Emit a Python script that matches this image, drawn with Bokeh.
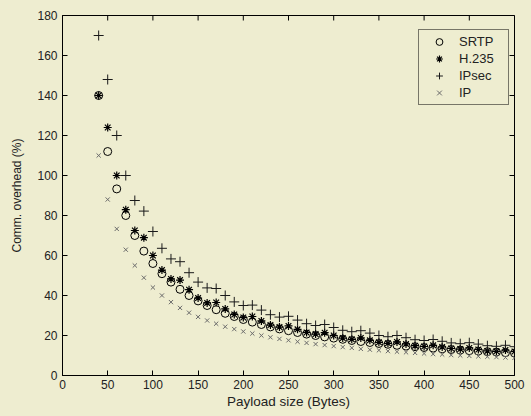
from bokeh.plotting import figure
from bokeh.models import Range1d, SingleIntervalTicker, Legend
from bokeh.embed import file_html
from bokeh.resources import INLINE
import math

payload = [40, 50, 60, 70, 80, 90, 100, 110, 120, 130, 140, 150, 160, 170, 180, 190,
           200, 210, 220, 230, 240, 250, 260, 270, 280, 290, 300, 310, 320, 330, 340,
           350, 360, 370, 380, 390, 400, 410, 420, 430, 440, 450, 460, 470, 480, 490, 500]

srtp = [140.0, 112.0, 93.3, 80.0, 70.0, 62.2, 56.0, 50.9, 46.7, 43.1, 40.0, 37.3, 35.0,
        32.9, 31.1, 29.5, 28.0, 26.7, 25.5, 24.3, 23.3, 22.4, 21.5, 20.7, 20.0, 19.3,
        18.7, 18.1, 17.5, 17.0, 16.5, 16.0, 15.6, 15.1, 14.7, 14.4, 14.0, 13.7, 13.3,
        13.0, 12.7, 12.4, 12.2, 11.9, 11.7, 11.4, 11.2]

h235 = [140.0, 124.0, 100.0, 82.9, 72.5, 68.9, 60.0, 52.7, 48.3, 47.7, 42.9, 38.7, 36.3,
        36.5, 33.3, 30.5, 29.0, 29.5, 27.3, 25.2, 24.2, 24.8, 23.1, 21.5, 20.7, 21.4,
        20.0, 18.7, 18.1, 18.8, 17.6, 16.6, 16.1, 16.8, 15.8, 14.9, 14.5, 15.1, 14.3,
        13.5, 13.2, 13.8, 13.0, 12.3, 12.1, 12.7, 12.0]

ipsec = [170.0, 148.0, 120.0, 100.0, 87.5, 82.2, 72.0, 63.6, 58.3, 56.9, 51.4, 46.7, 43.8,
         43.5, 40.0, 36.8, 35.0, 35.2, 32.7, 30.4, 29.2, 29.6, 27.7, 25.9, 25.0, 25.5,
         24.0, 22.6, 21.9, 22.4, 21.2, 20.0, 19.4, 20.0, 18.9, 17.9, 17.5, 18.0, 17.1,
         16.3, 15.9, 16.4, 15.7, 14.9, 14.6, 15.1, 14.4]

ip = [110.0, 88.0, 73.3, 62.9, 55.0, 48.9, 44.0, 40.0, 36.7, 33.8, 31.4, 29.3, 27.5,
      25.9, 24.4, 23.2, 22.0, 21.0, 20.0, 19.1, 18.3, 17.6, 16.9, 16.3, 15.7, 15.2,
      14.7, 14.2, 13.8, 13.3, 12.9, 12.6, 12.2, 11.9, 11.6, 11.3, 11.0, 10.7, 10.5,
      10.2, 10.0, 9.8, 9.6, 9.4, 9.2, 9.0, 8.8]

x_ticks = [0, 50, 100, 150, 200, 250, 300, 350, 400, 450, 500]
y_ticks = [0, 20, 40, 60, 80, 100, 120, 140, 160, 180]
x_max = 500
y_max = 180

BG = "#EEEDD0"
FONT = "Liberation Sans"
TXT = "#222222"

p = figure(width=531, height=416, output_backend="svg", toolbar_location=None,
           x_range=Range1d(0, x_max), y_range=Range1d(0, y_max),
           min_border_left=62, min_border_right=17, min_border_top=15, min_border_bottom=41,
           background_fill_color=BG, border_fill_color=BG)
p.xgrid.visible = False
p.ygrid.visible = False
p.outline_line_color = "#000000"
p.outline_line_width = 1

p.xaxis.ticker = SingleIntervalTicker(interval=50)
p.yaxis.ticker = SingleIntervalTicker(interval=20)
for ax in (p.xaxis[0], p.yaxis[0]):
    ax.axis_line_color = "#000000"
    ax.major_tick_in = 5
    ax.major_tick_out = 0
    ax.minor_tick_line_color = None
    ax.major_tick_line_color = "#000000"
    ax.major_label_text_font = FONT
    ax.major_label_text_font_size = "12px"
    ax.major_label_text_color = TXT
    ax.axis_label_text_font = FONT
    ax.axis_label_text_font_style = "normal"
    ax.axis_label_text_color = TXT

p.xaxis.axis_label = "Payload size (Bytes)"
p.xaxis.axis_label_text_font_size = "13.5px"
p.xaxis.major_label_standoff = 0
p.xaxis.axis_label_standoff = 2
p.yaxis.axis_label = "Comm. overhead (%)"
p.yaxis.axis_label_text_font_size = "12px"
p.yaxis.major_label_standoff = 1
p.yaxis.axis_label_standoff = 10

# inward ticks on the top and right edges of the box (half of each dash is clipped)
p.scatter(x_ticks, [y_max] * len(x_ticks), marker="dash", angle=math.pi / 2, size=10,
          line_color="#000000", line_width=1)
p.scatter([x_max] * len(y_ticks), y_ticks, marker="dash", size=10,
          line_color="#000000", line_width=1)

r1 = p.scatter(payload, srtp, marker="circle", size=8, fill_color=None,
               line_color="#000000", line_width=1)
r2 = p.scatter(payload, h235, marker="asterisk", size=8,
               line_color="#000000", line_width=1.2)
r3 = p.scatter(payload, ipsec, marker="cross", size=10,
               line_color="#1a1a1a", line_width=1)
r4 = p.scatter(payload, ip, marker="x", size=6,
               line_color="#6a6a6a", line_width=1)

legend = Legend(items=[("SRTP", [r1]), ("H.235", [r2]), ("IPsec", [r3]), ("IP", [r4])],
                location=(356, 270))
legend.background_fill_color = BG
legend.background_fill_alpha = 1
legend.border_line_color = "#000000"
legend.border_line_width = 1
legend.padding = 3
legend.spacing = 0
legend.margin = 0
legend.glyph_width = 34
legend.glyph_height = 17
legend.label_height = 17
legend.label_width = 46
legend.label_standoff = 3
legend.label_text_font = FONT
legend.label_text_font_size = "13px"
legend.label_text_color = TXT
p.add_layout(legend, "center")

html = file_html(p, INLINE)
html = html.replace("<head>", "<head><style>html,body{margin:0;background-color:" + BG + ";}</style>", 1)
open("out.html", "w").write(html)
